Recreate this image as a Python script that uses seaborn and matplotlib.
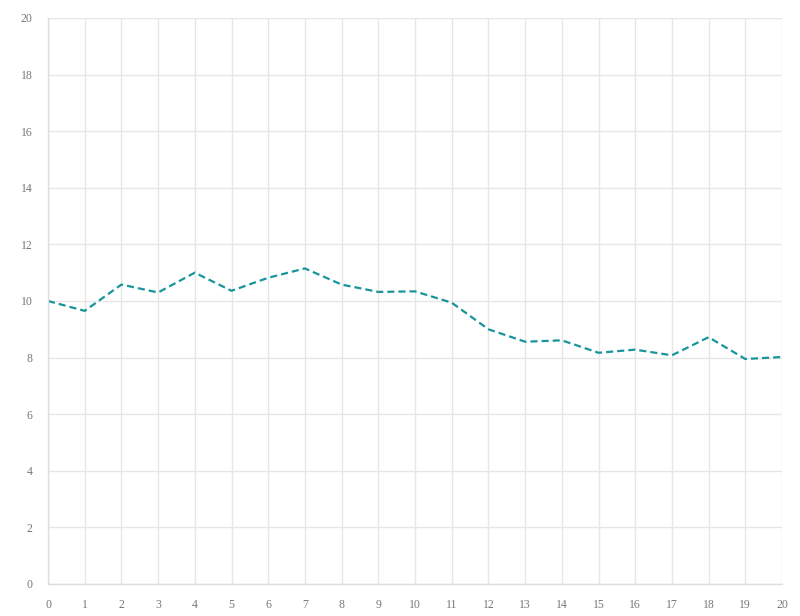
import matplotlib
matplotlib.use("Agg")
import matplotlib.pyplot as plt
import seaborn as sns
import pandas as pd

x_vals = list(range(21))
y_vals = [10.0, 9.65, 10.58, 10.30, 11.0, 10.36, 10.82, 11.15, 10.58, 10.32,
          10.34, 9.94, 9.0, 8.56, 8.61, 8.17, 8.28, 8.08, 8.72, 7.95, 8.02]

sns.set_theme(style="whitegrid")
plt.rcParams['font.family'] = ['Liberation Serif', 'DejaVu Serif']

df = pd.DataFrame({'x': x_vals, 'y': y_vals})

fig = plt.figure(figsize=(8, 6.16), dpi=100)
ax = fig.add_axes([0.06, 0.052, 0.9175, 0.9188])
sns.lineplot(data=df, x='x', y='y', ax=ax, color='#17959a', linestyle='--',
             linewidth=1.6, dashes=False)
ax.lines[0].set_linestyle((0, (3.2, 1.8)))

ax.set_xlim(0, 20)
ax.set_ylim(0, 20)
ax.set_xticks(range(0, 21))
ax.set_yticks(range(0, 21, 2))
ax.set_xlabel('')
ax.set_ylabel('')
ax.grid(True, color='#e6e6e6', linewidth=1)
for s in ['top', 'right']:
    ax.spines[s].set_visible(False)
for s in ['left', 'bottom']:
    ax.spines[s].set_color('#dddddd')
    ax.spines[s].set_linewidth(1)
ax.tick_params(axis='both', colors='#dddddd', labelcolor='#777777', labelsize=8.5,
               length=5, width=1)
ax.tick_params(axis='x', pad=6)
ax.tick_params(axis='y', pad=11, length=0)

fig.savefig('out.png', dpi=100)
